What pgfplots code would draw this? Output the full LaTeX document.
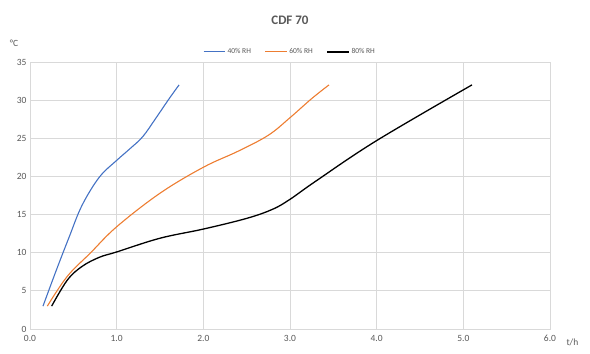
\documentclass[border=0pt]{standalone}
\usepackage{pgfplots}
\pgfplotsset{compat=1.18}
\usepackage{fontspec}
\setmainfont{Carlito}
\definecolor{gridc}{RGB}{217,217,217}
\definecolor{txt}{RGB}{89,89,89}
\definecolor{blueS}{RGB}{68,114,196}
\definecolor{orangeS}{RGB}{237,125,49}
\begin{document}
\begin{tikzpicture}
\begin{axis}[
  scale only axis,
  width=520pt, height=267pt,
  xmin=0, xmax=6, ymin=0, ymax=35,
  xtick={0,1,...,6},
  ytick={0,5,...,35},
  xticklabel={\pgfmathprintnumber[fixed,fixed zerofill,precision=1]{\tick}},
  /pgf/number format/assume math mode=true,
  grid=major,
  major grid style={gridc, line width=0.8pt},
  axis line style={gridc, line width=0.8pt},
  tick style={draw=none},
  tick label style={font=\fontsize{9.5}{10}\selectfont, text=txt},
  xticklabel style={yshift=-3pt},
  legend style={at={(0.5,1.01)}, anchor=south, draw=none, legend columns=3,
    font=\fontsize{7.5}{8}\selectfont,
    /tikz/every even column/.append style={column sep=12pt}},
  legend cell align=left,
  clip=false,
]
\addlegendimage{legend image code/.code={\draw[blueS, line width=1.1pt] (0cm,0cm) -- (0.75cm,0cm);}}
\addlegendentry{\textcolor{txt}{40\% RH}}
\addlegendimage{legend image code/.code={\draw[orangeS, line width=1.1pt] (0cm,0cm) -- (0.75cm,0cm);}}
\addlegendentry{\textcolor{txt}{60\% RH}}
\addlegendimage{legend image code/.code={\draw[black, line width=1.4pt] (0cm,0cm) -- (0.75cm,0cm);}}
\addlegendentry{\textcolor{txt}{80\% RH}}
\addplot[blueS, line width=1.1pt, smooth, tension=0.6, forget plot] coordinates {
(0.15,3) (0.3,7.6) (0.45,12) (0.6,16.2) (0.8,19.9) (1.0,22.1) (1.15,23.6) (1.3,25.2) (1.45,27.6) (1.6,30.1) (1.72,32)};
\addplot[orangeS, line width=1.1pt, smooth, tension=0.6, forget plot] coordinates {
(0.2,3) (0.43,6.9) (0.7,10) (1.0,13.4) (1.5,17.8) (2.0,21.2) (2.4,23.3) (2.75,25.4) (3.0,27.7) (3.25,30.2) (3.45,32)};
\addplot[black, line width=1.3pt, smooth, tension=0.6, forget plot] coordinates {
(0.25,3) (0.43,6.4) (0.6,8.2) (0.8,9.4) (1.0,10.1) (1.5,11.9) (2.0,13.1) (2.5,14.5) (2.8,15.7) (3.0,17) (3.3,19.4) (4.0,24.7) (5.1,32)};
\node[font=\bfseries\fontsize{13}{14}\selectfont, text=txt, anchor=south] at (rel axis cs:0.5,1) [yshift=34pt] {CDF 70};
\node[font=\fontsize{9.5}{10}\selectfont, text=txt, anchor=south] at (rel axis cs:0,1) [xshift=-16pt, yshift=12pt] {°C};
\node[font=\fontsize{9.5}{10}\selectfont, text=txt, anchor=west] at (rel axis cs:1,0) [xshift=13pt, yshift=-13pt] {t/h};
\end{axis}
\path[use as bounding box] ([xshift=-30pt,yshift=-24pt]current axis.south west) rectangle ([xshift=40pt,yshift=62pt]current axis.north east);
\end{tikzpicture}
\end{document}
